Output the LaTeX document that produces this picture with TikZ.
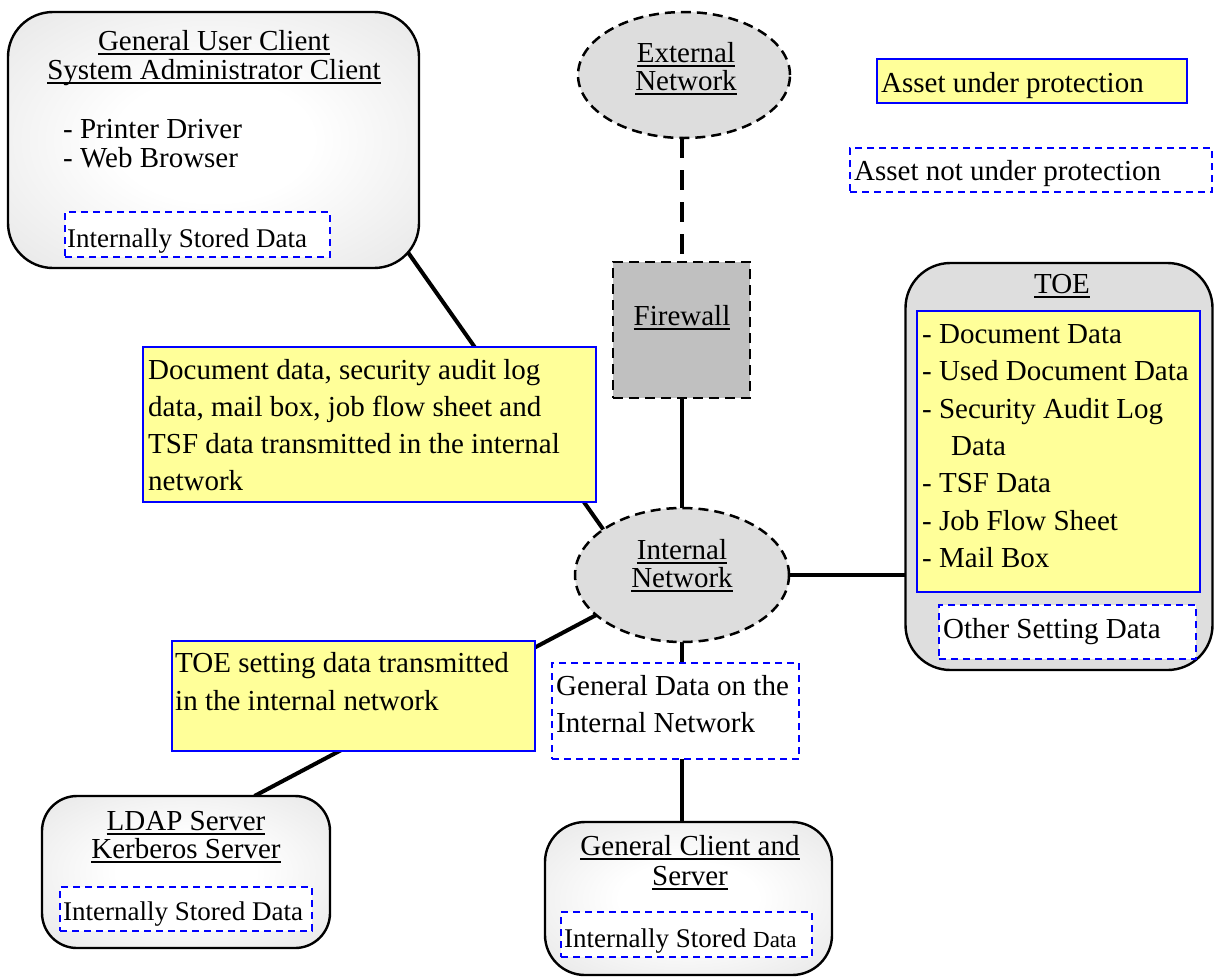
\documentclass[tikz,border=0pt]{standalone}
\usepackage{fontspec}
\setmainfont{Liberation Serif}
\usetikzlibrary{shapes.geometric,calc}
\pgfdeclarelayer{background}
\pgfsetlayers{background,main}
\definecolor{ylw}{HTML}{FFFF99}
\definecolor{bl}{HTML}{0000FF}
\definecolor{ellgray}{HTML}{DDDDDD}
\definecolor{fwgray}{HTML}{C0C0C0}
\definecolor{toegray}{HTML}{DEDEDE}
\pgfdeclareradialshading{myrad}{\pgfpoint{0bp}{0bp}}{color(0bp)=(white); color(12bp)=(white); color(50bp)=(black!15)}
\newsavebox\ulbox
\newcommand{\myul}[1]{\sbox\ulbox{#1}\usebox\ulbox\llap{\rule[-5pt]{\wd\ulbox}{1.8pt}}}
\begin{document}
\begin{tikzpicture}[x=1pt,y=-1pt,
  box/.style={rectangle, inner sep=0pt, outer sep=0pt},
  graybox/.style={box, draw=black, line width=2.4pt, rounded corners=#1, shading=myrad, shade},
  ylwbox/.style={box, draw=bl, line width=1.5pt, fill=ylw},
  dbox/.style={box, draw=bl, line width=2pt, dash pattern=on 7pt off 5pt, fill=white},
  net/.style={ellipse, inner sep=0pt, outer sep=0pt, draw=black, line width=2.5pt, dash pattern=on 10pt off 6pt, fill=ellgray},
  conn/.style={line width=4pt, black},
  txt/.style={inner sep=0pt, anchor=base west, font=\fontsize{29}{35}\selectfont},
  ctxt/.style={txt, anchor=base},
  stxt/.style={txt, font=\fontsize{27}{30}\selectfont}]
\useasboundingbox (0,0) rectangle (1214,978);

% client box
\node[graybox=45pt, minimum width=411pt, minimum height=256pt] (client) at (213.5,140) {};
\node[ctxt] (c1) at (214,50) {\myul{General User Client}};
\node[ctxt] (c2) at (214,79) {\myul{System Administrator Client}};
\node[txt] (c3) at (63,138) {- Printer Driver};
\node[txt] (c4) at (63,167) {- Web Browser};
\node[dbox, minimum width=265pt, minimum height=45pt] (isd1) at (197.5,234.5) {};
\node[stxt] (isd1t) at (67,247) {Internally Stored Data};

% external network
\node[net, minimum width=212pt, minimum height=126pt] (extnet) at (684,75) {};
\node[ctxt] (e1) at (686,62) {\myul{External}};
\node[ctxt] (e2) at (686,90) {\myul{Network}};

% firewall
\node[box, draw=black, line width=2.5pt, dash pattern=on 10pt off 6pt, fill=fwgray, minimum width=137pt, minimum height=136pt] (fw) at (681.5,330) {};
\node[ctxt] (fwt) at (682,325) {\myul{Firewall}};

% internal network
\node[net, minimum width=214pt, minimum height=134pt] (intnet) at (682,575) {};
\node[ctxt] (i1) at (682,559) {\myul{Internal}};
\node[ctxt] (i2) at (682,587) {\myul{Network}};

% document data box
\node[ylwbox, minimum width=453pt, minimum height=155pt] (docdata) at (369.5,424.5) {};
\node[txt] (d1) at (148,379) {Document data, security audit log};
\node[txt] (d2) at (148,416) {data, mail box, job flow sheet and};
\node[txt] (d3) at (148,453) {TSF data transmitted in the internal};
\node[txt] (d4) at (148,490) {network};

% TOE setting data box
\node[ylwbox, minimum width=363pt, minimum height=110pt] (toeset) at (353.5,696) {};
\node[txt] (s1) at (175,672) {TOE setting data transmitted};
\node[txt] (s2) at (175,710) {in the internal network};

% general data box
\node[dbox, minimum width=247pt, minimum height=96pt] (gendata) at (675.5,711) {};
\node[txt] (g1) at (556,695) {General Data on the};
\node[txt] (g2) at (556,732) {Internal Network};

% general client and server
\node[graybox=40pt, minimum width=287pt, minimum height=153pt] (genclient) at (688.5,898.5) {};
\node[ctxt] (gc1) at (690,855) {\myul{General Client and}};
\node[ctxt] (gc2) at (690,885) {\myul{Server}};
\node[dbox, minimum width=251pt, minimum height=45pt] (isd3) at (686.5,934.5) {};
\node[stxt] (isd3t) at (564,947) {Internally Stored {\fontsize{23}{26}\selectfont Data}};

% LDAP
\node[graybox=35pt, minimum width=288pt, minimum height=152pt] (ldap) at (186,872) {};
\node[ctxt] (l1) at (186,830) {\myul{LDAP Server}};
\node[ctxt] (l2) at (186,858) {\myul{Kerberos Server}};
\node[dbox, minimum width=252pt, minimum height=44pt] (isd2) at (186,909) {};
\node[stxt] (isd2t) at (63,920) {Internally Stored Data};

% TOE
\node[box, draw=black, line width=2.4pt, rounded corners=45pt, fill=toegray, minimum width=307pt, minimum height=407pt] (toe) at (1059,466.5) {};
\node[ctxt] (tt) at (1062,293) {\myul{TOE}};
\node[ylwbox, minimum width=283pt, minimum height=281pt] (toelist) at (1058.5,451.5) {};
\node[txt] (t1) at (922,343) {- Document Data};
\node[txt] (t2) at (922,380) {- Used Document Data};
\node[txt] (t3) at (922,418) {- Security Audit Log};
\node[txt] (t4) at (951,455) {Data};
\node[txt] (t5) at (922,492) {- TSF Data};
\node[txt] (t6) at (922,530) {- Job Flow Sheet};
\node[txt] (t7) at (922,567) {- Mail Box};
\node[dbox, minimum width=257pt, minimum height=54pt] (other) at (1067.5,632) {};
\node[txt] (ot) at (943,638) {Other Setting Data};

% legend
\node[ylwbox, minimum width=310pt, minimum height=44pt] (leg1) at (1032,81) {};
\node[txt] (leg1t) at (881,92) {Asset under protection};
\node[dbox, minimum width=362pt, minimum height=44pt] (leg2) at (1031,170) {};
\node[txt] (leg2t) at (854,180) {Asset not under protection};

% connectors
\begin{pgfonlayer}{background}
\draw[conn, dash pattern=on 20pt off 12pt] (fw.north |- extnet.south) -- (fw.north);
\draw[conn] (fw.south) -- (fw.south |- intnet.north);
\draw[conn] (intnet.150) -- ($(intnet.150)!1.08!(client.south east)$);
\draw[conn] (intnet.205) -- (ldap.48);
\draw[conn] (intnet.east) -- (intnet.east -| toe.west);
\draw[conn] (intnet.south) -- (intnet.south |- gendata.north);
\draw[conn] (intnet.south |- gendata.south) -- (intnet.south |- genclient.north);
\end{pgfonlayer}
\end{tikzpicture}
\end{document}
